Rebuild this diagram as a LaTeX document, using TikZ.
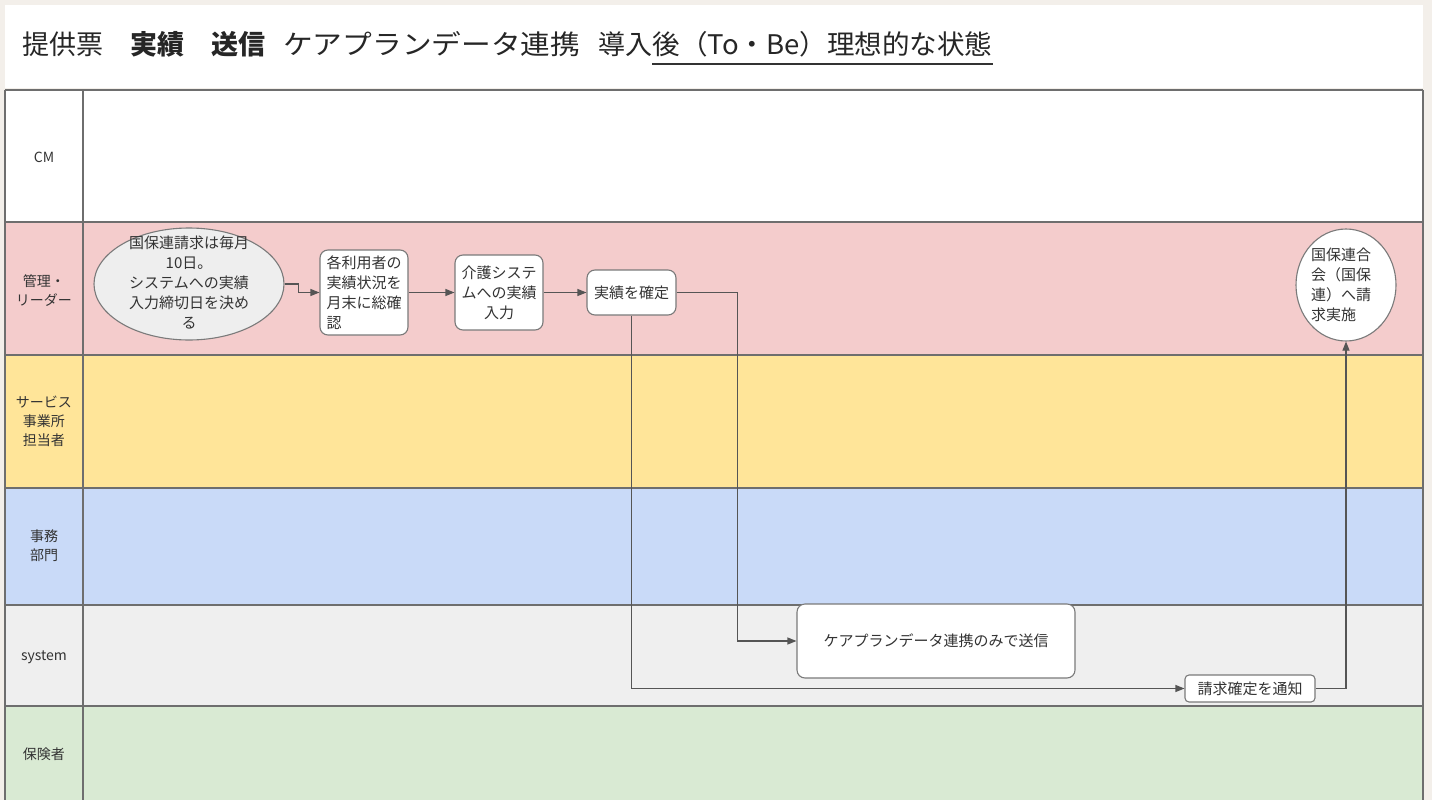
\documentclass[tikz,border=0pt]{standalone}
\usepackage{fontspec}
\usepackage{graphicx}
\setmainfont{Noto Sans CJK JP}
\usetikzlibrary{shapes.geometric,arrows.meta}
\definecolor{bgbeige}{HTML}{F3EFEA}
\definecolor{lanepink}{HTML}{F4CCCC}
\definecolor{laneyellow}{HTML}{FFE599}
\definecolor{laneblue}{HTML}{C9DAF8}
\definecolor{lanegrey}{HTML}{EFEFEF}
\definecolor{lanegreen}{HTML}{D9EAD3}
\definecolor{lanewhite}{HTML}{FFFFFF}
\definecolor{gridline}{HTML}{6E6E6E}
\definecolor{nodeborder}{HTML}{7A7A7A}
\definecolor{arrowcol}{HTML}{555555}
\definecolor{textcol}{HTML}{333333}
\definecolor{ellfill}{HTML}{EEEEEE}
\tikzset{
  lanelabel/.style={text=textcol, align=center, font=\fontsize{14}{19}\selectfont},
  procbox/.style={draw=nodeborder, fill=white, line width=1.1pt, rounded corners=8pt, inner sep=0pt,
     text=textcol, font=\fontsize{15}{20}\selectfont},
  ellbox/.style={ellipse, draw=nodeborder, line width=1.1pt, inner sep=0pt},
  txt/.style={text=textcol, font=\fontsize{15}{20}\selectfont, inner sep=0pt},
  arr/.style={draw=arrowcol, line width=1.1pt, -{Triangle[length=9pt,width=7pt]}},
  titletext/.style={anchor=base west, inner sep=0pt, text=black!85, font=\fontsize{27}{30}\selectfont},
}
\begin{document}
\begin{tikzpicture}[x=1pt,y=-1pt]
\useasboundingbox (0,0) rectangle (1432,800);
\fill[bgbeige] (0,0) rectangle (1432,800);
% title card
\fill[white] (5,5) rectangle (1423,88);
\node[titletext] (t1) at (22,55) {提供票};
\node[titletext] (t2) at (130,55) {\textbf{実績}};
\node[titletext] (t3) at (211,55) {\textbf{送信}};
\node[titletext] (t4) at (283,55) {\scalebox{1.1}[1]{ケアプランデータ連携}};
\node[titletext] (t5) at (598,55) {導入};
\node[titletext] (t6) at (t5.base east) {\scalebox{1.02}[1]{後（To・Be）理想的な状態}};
\draw[black!80, line width=1.6pt] ([yshift=-9pt]t6.base west) -- ([yshift=-9pt]t6.base east);
% lanes: fills
\fill[lanewhite] (5,90) rectangle (1423,222);
\fill[lanepink] (5,222) rectangle (1423,355);
\fill[laneyellow] (5,355) rectangle (1423,488);
\fill[laneblue] (5,488) rectangle (1423,605);
\fill[lanegrey] (5,605) rectangle (1423,706);
\fill[lanegreen] (5,706) rectangle (1423,800);
% grid lines
\draw[gridline, line width=1.4pt] (5,90) -- (1423,90);
\foreach \yy in {222,355,488,605,706}{\draw[gridline, line width=1.4pt] (5,\yy) -- (1423,\yy);}
\draw[gridline, line width=1.4pt] (5,90) -- (5,800);
\draw[gridline, line width=1.4pt] (83,90) -- (83,800);
\draw[gridline, line width=1.4pt] (1423,90) -- (1423,800);
% lane labels
\node[lanelabel] (lcm) at (44,157) {CM};
\node[lanelabel] (lmgr) at (44,291) {管理・\\リーダー};
\node[lanelabel] (lsvc) at (44,421) {サービス\\事業所\\担当者};
\node[lanelabel] (loff) at (44,546) {事務\\部門};
\node[lanelabel] (lsys) at (44,657) {system};
\node[lanelabel] (lins) at (44,754) {保険者};
% nodes
\node[ellbox, fill=ellfill, minimum width=190pt, minimum height=112pt] (e1) at (189,284) {};
\node[txt, align=center] (e1t) at (189,283) {国保連請求は毎月\\10日。\\システムへの実績\\入力締切日を決め\\る};
\node[procbox, minimum width=88pt, minimum height=85pt, align=left] (b1) at (364,292.5) {各利用者の\\実績状況を\\月末に総確\\認};
\node[procbox, minimum width=88pt, minimum height=75pt, align=center] (b2) at (499,292.5) {介護システ\\ムへの実績\\入力};
\node[procbox, minimum width=89pt, minimum height=45pt] (b3) at (631.5,292.5) {実績を確定};
\node[ellbox, fill=white, minimum width=100pt, minimum height=112pt] (e2) at (1346,285) {};
\node[txt, align=left] (e2t) at (1341,285) {国保連合\\会（国保\\連）へ請\\求実施};
\node[procbox, minimum width=278pt, minimum height=74pt] (send) at (936,641) {ケアプランデータ連携のみで送信};
\node[procbox, rounded corners=4pt, minimum width=130pt, minimum height=27pt] (notify) at (1250,688.5) {請求確定を通知};
% connectors
\draw[arr] (e1.east) -- ++(14,0) |- (b1.west);
\draw[arr] (b1.east) -- (b2.west);
\draw[arr] (b2.east) -- (b3.west);
\draw[arr] (b3.east) -- ++(61,0) |- (send.west);
\draw[arr] (b3.south) |- (notify.west);
\draw[arr] (notify.east) -| (e2.south);
\end{tikzpicture}
\end{document}
